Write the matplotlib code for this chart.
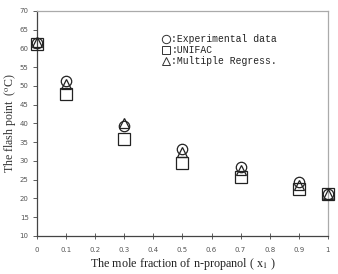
import matplotlib
matplotlib.use("Agg")
import matplotlib.pyplot as plt

plt.rcParams["mathtext.fontset"] = "stix"

x = [0, 0.1, 0.3, 0.5, 0.7, 0.9, 1.0]
experimental = [61.5, 51.2, 39.2, 33.2, 28.3, 24.3, 21.3]
unifac = [61.2, 47.8, 35.8, 29.4, 25.6, 22.4, 21.2]
multiple_regress = [61.6, 50.6, 40.0, 32.5, 27.6, 23.7, 21.3]
xticks = [0, 0.1, 0.2, 0.3, 0.4, 0.5, 0.6, 0.7, 0.8, 0.9, 1]
xticklabels = ["0", "0.1", "0.2", "0.3", "0.4", "0.5", "0.6", "0.7", "0.8", "0.9", "1"]
yticks = [10, 15, 20, 25, 30, 35, 40, 45, 50, 55, 60, 65, 70]

fig = plt.figure(figsize=(3.38, 2.74), dpi=100)
ax = fig.add_axes([0.1095, 0.1387, 0.8605, 0.8213])

common = dict(linestyle="none", markerfacecolor="none", markeredgecolor="#222222",
              markeredgewidth=0.9, clip_on=False, zorder=3)
ax.plot(x, experimental, marker="o", markersize=7.5, **common)
ax.plot(x, unifac, marker="s", markersize=8.5, **common)
ax.plot(x, multiple_regress, marker="^", markersize=6.5, **common)

ax.set_xlim(0, 1)
ax.set_ylim(10, 70)
ax.set_xticks(xticks)
ax.set_xticklabels(xticklabels)
ax.set_yticks(yticks)
ax.tick_params(axis="both", labelsize=5, labelcolor="#555555", color="#444444",
               width=0.6)
ax.tick_params(axis="x", direction="inout", length=4, pad=6)
ax.tick_params(axis="y", direction="out", length=3, pad=3)

for s in ["left", "bottom"]:
    ax.spines[s].set_color("#444444")
    ax.spines[s].set_linewidth(0.9)
for s in ["top", "right"]:
    ax.spines[s].set_color("#aaaaaa")
    ax.spines[s].set_linewidth(0.9)

ax.set_ylabel("The flash point  ($^{\\rm o}$C)", family="Liberation Serif",
              fontsize=8.6, color="#333333", labelpad=1.5)
ax.set_xlabel("The mole fraction of n-propanol ( x$_{\\rm 1}$ )",
              family="Liberation Serif", fontsize=8.7, color="#222222", labelpad=2)

# legend-like annotation
leg_font = dict(family="Liberation Mono", fontsize=7, color="#222222",
                transform=ax.transAxes, va="center", ha="left")
mk = dict(transform=ax.transAxes, linestyle="none", markerfacecolor="none",
          markeredgecolor="#333333", markeredgewidth=0.7, clip_on=False)
rows = [(0.876, "o", 6, ":Experimental data"),
        (0.827, "s", 6, ":UNIFAC"),
        (0.778, "^", 5.5, ":Multiple Regress.")]
for yy, m, ms, label in rows:
    ax.plot([0.445], [yy], marker=m, markersize=ms, **mk)
    ax.text(0.462, yy, label, **leg_font)

fig.savefig("out.png", dpi=100)
